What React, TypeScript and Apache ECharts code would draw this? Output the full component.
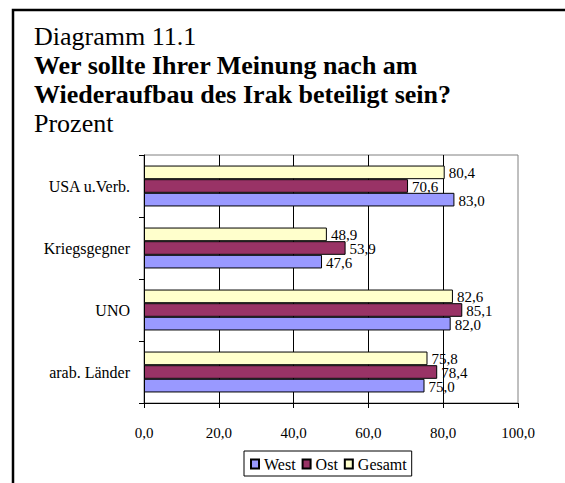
import React, { useEffect, useRef } from "react";
import * as echarts from "echarts";

const categories = ["arab. Länder", "UNO", "Kriegsgegner", "USA u.Verb."];
const west = [75.0, 82.0, 47.6, 83.0];
const ost = [78.4, 85.1, 53.9, 70.6];
const gesamt = [75.8, 82.6, 48.9, 80.4];
const titleLines = [
  "Diagramm 11.1",
  "Wer sollte Ihrer Meinung nach am",
  "Wiederaufbau des Irak beteiligt sein?",
  "Prozent",
];

const FONT = "Liberation Serif";
const fmt = (v: number) => v.toFixed(1).replace(".", ",");

export default function App() {
  const ref = useRef<HTMLDivElement>(null);
  useEffect(() => {
    if (!ref.current) return;
    const chart = echarts.init(ref.current, null, { renderer: "svg" });
    const labelCfg = {
      show: true,
      position: "right",
      distance: 4,
      offset: [0, 1],
      color: "#000",
      fontFamily: FONT,
      fontSize: 15,
      formatter: (p: any) => fmt(p.value),
    };
    const mk = (name: string, data: number[], color: string) => ({
      name,
      type: "bar",
      data,
      barGap: "0%",
      barCategoryGap: "34%",
      itemStyle: { color, borderColor: "#000", borderWidth: 1 },
      label: labelCfg,
    });
    chart.setOption({
      animation: false,
      backgroundColor: "#fff",
      textStyle: { fontFamily: FONT },
      title: titleLines.map((t, i) => ({
        text: t,
        left: 34,
        top: 23 + i * 29,
        padding: 0,
        textStyle: {
          fontFamily: FONT,
          fontSize: 26,
          fontWeight: i === 1 || i === 2 ? "bold" : "normal",
          color: "#000",
        },
      })),
      graphic: [
        {
          type: "rect",
          shape: { x: 13, y: 10, width: 700, height: 700 },
          style: { fill: "none", stroke: "#000", lineWidth: 2.5 },
        },
      ],
      legend: {
        data: ["West", "Ost", "Gesamt"],
        left: 244,
        top: 451,
        orient: "horizontal",
        itemWidth: 8,
        itemHeight: 9,
        itemGap: 6,
        padding: [5, 5, 4, 6],
        borderColor: "#000",
        borderWidth: 1,
        icon: "rect",
        textStyle: { fontFamily: FONT, fontSize: 16, color: "#000" },
      },
      grid: {
        left: 144,
        top: 155,
        right: 47,
        bottom: 80,
        show: true,
        borderColor: "#808080",
        borderWidth: 1,
        backgroundColor: "transparent",
      },
      xAxis: {
        type: "value",
        min: 0,
        max: 100,
        interval: 20,
        axisLine: { show: true, lineStyle: { color: "#000", width: 1 } },
        axisTick: { show: true, length: 5, lineStyle: { color: "#000" } },
        axisLabel: {
          margin: 22,
          color: "#000",
          fontFamily: FONT,
          fontSize: 15,
          formatter: (v: number) => fmt(v),
        },
        splitLine: {
          show: true,
          showMinLine: false,
          showMaxLine: false,
          lineStyle: { color: "#000", width: 1 },
        },
      },
      yAxis: {
        type: "category",
        data: categories,
        axisLine: { show: true, lineStyle: { color: "#000", width: 1 } },
        axisTick: { show: true, length: 5, alignWithLabel: false, lineStyle: { color: "#000" } },
        axisLabel: { margin: 14, color: "#000", fontFamily: FONT, fontSize: 16 },
      },
      series: [
        mk("Gesamt", gesamt, "#FFFFCC"),
        mk("Ost", ost, "#993366"),
        mk("West", west, "#9999FF"),
      ],
    });
    return () => chart.dispose();
  }, []);
  return (
    <div
      ref={ref}
      style={{ position: "fixed", left: 0, top: 0, width: 565, height: 483 }}
    />
  );
}
